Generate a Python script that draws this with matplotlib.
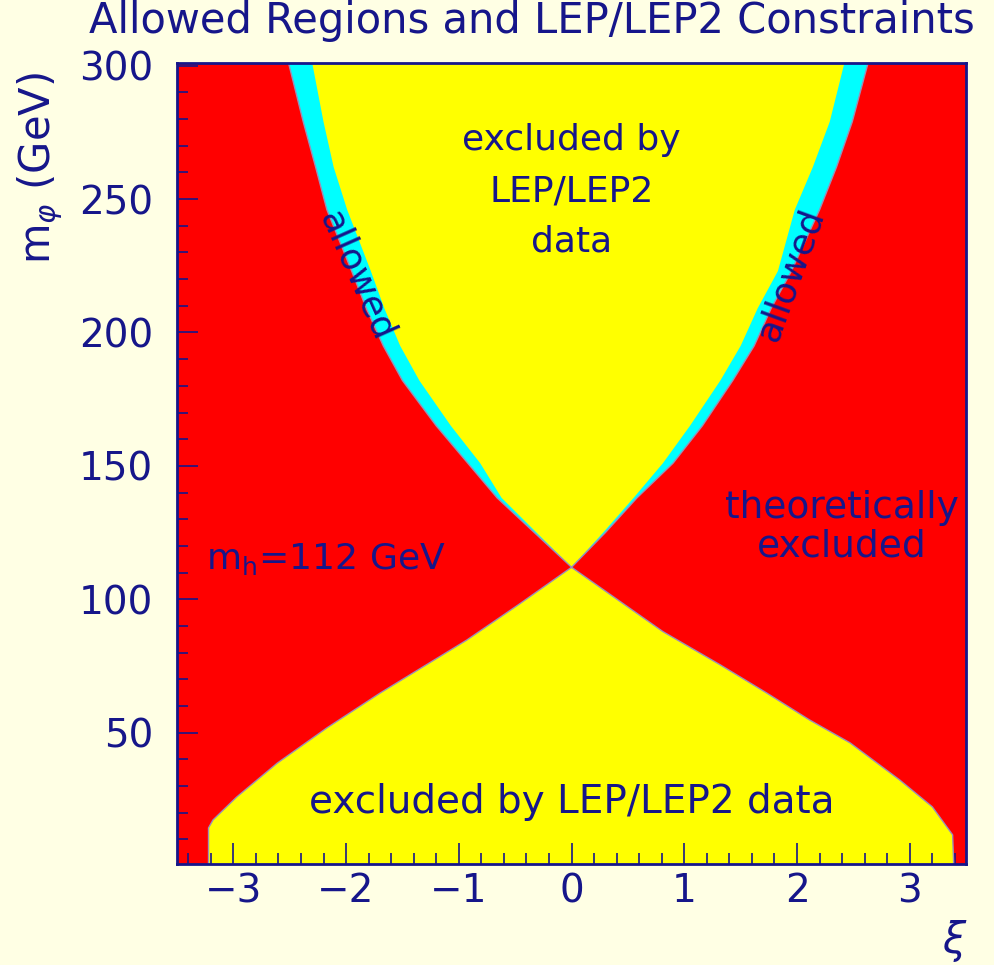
import numpy as np
import matplotlib
matplotlib.use("Agg")
import matplotlib.pyplot as plt
from matplotlib.ticker import MultipleLocator

# upper branch (m_phi above the crossing): red edge / yellow edge of the cyan band
up_m = [112, 125, 138, 151, 165, 182, 195, 209, 223, 246, 262, 279, 301]
up_left_red = [0, -0.33, -0.66, -0.92, -1.20, -1.50, -1.67, -1.82, -1.95, -2.17, -2.27, -2.38, -2.51]
up_left_yel = [0, -0.31, -0.62, -0.81, -1.07, -1.35, -1.52, -1.66, -1.78, -1.99, -2.11, -2.20, -2.30]
up_right_yel = [0, 0.28, 0.55, 0.81, 1.05, 1.32, 1.50, 1.65, 1.83, 1.98, 2.14, 2.29, 2.42]
up_right_red = [0, 0.30, 0.58, 0.90, 1.16, 1.43, 1.62, 1.77, 1.95, 2.20, 2.35, 2.49, 2.63]

# lower branch (below the crossing)
lo_left_m = [112, 98, 84.7, 64.8, 51.8, 38.6, 25.9, 17.3, 14.3, 0]
lo_left_x = [0, -0.47, -0.93, -1.70, -2.17, -2.61, -2.97, -3.18, -3.22, -3.22]
lo_right_m = [112, 87.9, 75.4, 64.9, 54.8, 46.2, 32.3, 22.2, 11.7, 0]
lo_right_x = [0, 0.81, 1.32, 1.73, 2.11, 2.47, 2.91, 3.20, 3.38, 3.39]

x_ticks = [-3, -2, -1, 0, 1, 2, 3]
x_ticklabels = ["\u22123", "\u22122", "\u22121", "0", "1", "2", "3"]
y_ticks = [50, 100, 150, 200, 250, 300]

bg = "#FFFFE4"
navy = "#16168a"
plt.rcParams["font.family"] = ["DejaVu Sans"]

fig = plt.figure(figsize=(9.94, 9.65), dpi=100, facecolor=bg)
ax = fig.add_axes([0.178, 0.1047, 0.794, 0.830])
ax.set_facecolor("#FF0000")

up_m = np.array(up_m)
ax.fill(np.concatenate([up_left_red, up_right_red[::-1]]),
        np.concatenate([up_m, up_m[::-1]]), color="#00FFFF", lw=0)
ax.fill(np.concatenate([up_left_yel, up_right_yel[::-1]]),
        np.concatenate([up_m, up_m[::-1]]), color="#FFFF00", lw=0)
ax.fill(np.concatenate([lo_left_x, lo_right_x[::-1]]),
        np.concatenate([lo_left_m, lo_right_m[::-1]]), color="#FFFF00", lw=0)

# thin boundary traces
for xs, ms in [(up_left_red, up_m), (up_right_red, up_m),
               (lo_left_x, lo_left_m), (lo_right_x, lo_right_m)]:
    ax.plot(xs, ms, color="#9a8fb8", lw=1.0)

ax.set_xlim(-3.5, 3.5)
ax.set_ylim(0.8, 301)

ax.set_xticks(x_ticks)
ax.set_xticklabels(x_ticklabels)
ax.set_yticks(y_ticks)
ax.xaxis.set_minor_locator(MultipleLocator(0.2))
ax.yaxis.set_minor_locator(MultipleLocator(10))
ax.tick_params(which="both", direction="in", colors=navy, top=False, right=False,
               labelsize=28, width=1.2)
ax.tick_params(which="major", length=15)
ax.tick_params(which="minor", length=8)
ax.tick_params(axis="x", which="major", pad=6)
ax.tick_params(axis="y", which="major", pad=17)
for s in ax.spines.values():
    s.set_color(navy)
    s.set_linewidth(2)

fig.text(0.535, 0.978, "Allowed Regions and LEP/LEP2 Constraints", ha="center", va="center",
         fontsize=30, color=navy)
fig.text(0.040, 0.826, r"m$_{\varphi}$ (GeV)", rotation=90, ha="center", va="center",
         fontsize=30, color=navy)
fig.text(0.961, 0.025, r"$\xi$", ha="center", va="center", fontsize=30, color=navy)

ax.text(0.0, 253, "excluded by\nLEP/LEP2\ndata", ha="center", va="center",
        fontsize=26, color=navy, linespacing=1.62)
ax.text(0.0, 24, "excluded by LEP/LEP2 data", ha="center", va="center",
        fontsize=28, color=navy)
ax.text(2.40, 127, "theoretically\nexcluded", ha="center", va="center",
        fontsize=27, color=navy, linespacing=1.08)
ax.text(-2.18, 115, r"m$_\mathrm{h}$=112 GeV", ha="center", va="center",
        fontsize=26, color=navy)
ax.text(-1.91, 221, "allowed", ha="center", va="center", rotation=-66,
        fontsize=26, color=navy)
ax.text(1.94, 222, "allowed", ha="center", va="center", rotation=70,
        fontsize=26, color=navy)

fig.savefig("out.png", dpi=100, facecolor=bg)
